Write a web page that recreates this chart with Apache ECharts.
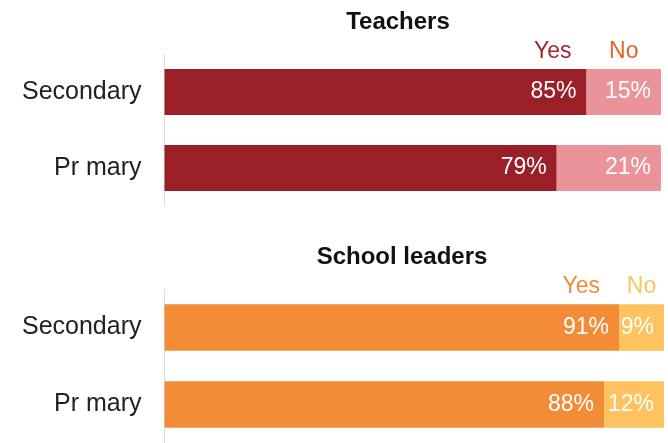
<!DOCTYPE html>
<html>
<head>
<meta charset="utf-8">
<script src="https://cdn.jsdelivr.net/npm/echarts@6/dist/echarts.min.js"></script>
<style>
  html, body { margin: 0; padding: 0; background: #fff; }
  #chart { width: 668px; height: 443px; }
</style>
</head>
<body>
<div id="chart"></div>
<script>
// Survey answers by school phase
const categories = ['Secondary', 'Pr mary'];
const teachersYes = [85, 79];
const teachersNo = [15, 21];
const leadersYes = [91, 88];
const leadersNo = [9, 12];
const panelTitles = ['Teachers', 'School leaders'];
const answerLabels = ['Yes', 'No'];

const FONT = "'Liberation Sans', Arial, Helvetica, sans-serif";

const panels = [
  { title: panelTitles[0], yes: teachersYes, no: teachersNo,
    colors: ['#9b1f27', '#ea939a'], headColors: ['#a3282e', '#e0652b'],
    grid: { left: 164.5, right: 7, top: 54, height: 152 },
    titlePos: [398, 22.5], yesGap: 15, headRise: 40 },
  { title: panelTitles[1], yes: leadersYes, no: leadersNo,
    colors: ['#f28c37', '#fec35f'], headColors: ['#f28c37', '#fec35f'],
    grid: { left: 164.5, right: 4, top: 289, height: 157 },
    titlePos: [402, 257], yesGap: 19, headRise: 41 }
];

const chart = echarts.init(document.getElementById('chart'), null, { renderer: 'canvas' });

const barLabel = {
  show: true,
  position: 'insideRight',
  distance: 10,
  formatter: '{c}%',
  color: '#ffffff',
  fontSize: 23,
  fontFamily: FONT
};

const option = {
  animation: false,
  backgroundColor: '#ffffff',
  grid: panels.map(p => Object.assign({ containLabel: false }, p.grid)),
  xAxis: panels.map((p, i) => ({
    type: 'value', gridIndex: i, min: 0, max: 100, show: false
  })),
  yAxis: panels.map((p, i) => ({
    type: 'category',
    gridIndex: i,
    data: categories,
    inverse: true,
    axisLine: { show: true, lineStyle: { color: '#dcdcdc', width: 1 } },
    axisTick: { show: false },
    splitLine: { show: false },
    axisLabel: { fontSize: 25, color: '#222', fontFamily: FONT, margin: 23 }
  })),
  series: panels.flatMap((p, i) => [
    {
      type: 'bar', name: answerLabels[0], xAxisIndex: i, yAxisIndex: i,
      stack: 'panel' + i, data: p.yes, barCategoryGap: '39.5%',
      itemStyle: { color: p.colors[0] }, label: barLabel
    },
    {
      type: 'bar', name: answerLabels[1], xAxisIndex: i, yAxisIndex: i,
      stack: 'panel' + i, data: p.no, barCategoryGap: '39.5%',
      itemStyle: { color: p.colors[1] }, label: barLabel
    }
  ])
};

chart.setOption(option);

// Panel titles and Yes/No headers placed from the axes' own scales
const graphics = [];
panels.forEach((p, i) => {
  graphics.push({
    type: 'text', x: p.titlePos[0], y: p.titlePos[1],
    style: {
      text: p.title, font: 'bold 24px ' + FONT, fill: '#111',
      align: 'center', verticalAlign: 'middle',
      textAlign: 'center', textVerticalAlign: 'middle'
    }
  });
  const xSplit = chart.convertToPixel({ xAxisIndex: i }, p.yes[0]);
  const xEnd = chart.convertToPixel({ xAxisIndex: i }, p.yes[0] + p.no[0]);
  const yRow = chart.convertToPixel({ yAxisIndex: i }, categories[0]);
  const yHead = yRow - p.headRise;
  graphics.push({
    type: 'text', x: xSplit - p.yesGap, y: yHead,
    style: {
      text: answerLabels[0], font: '23px ' + FONT, fill: p.headColors[0],
      align: 'right', verticalAlign: 'middle',
      textAlign: 'right', textVerticalAlign: 'middle'
    }
  });
  graphics.push({
    type: 'text', x: (xSplit + xEnd) / 2, y: yHead,
    style: {
      text: answerLabels[1], font: '23px ' + FONT, fill: p.headColors[1],
      align: 'center', verticalAlign: 'middle',
      textAlign: 'center', textVerticalAlign: 'middle'
    }
  });
});

chart.setOption({ graphic: graphics });
</script>
</body>
</html>
